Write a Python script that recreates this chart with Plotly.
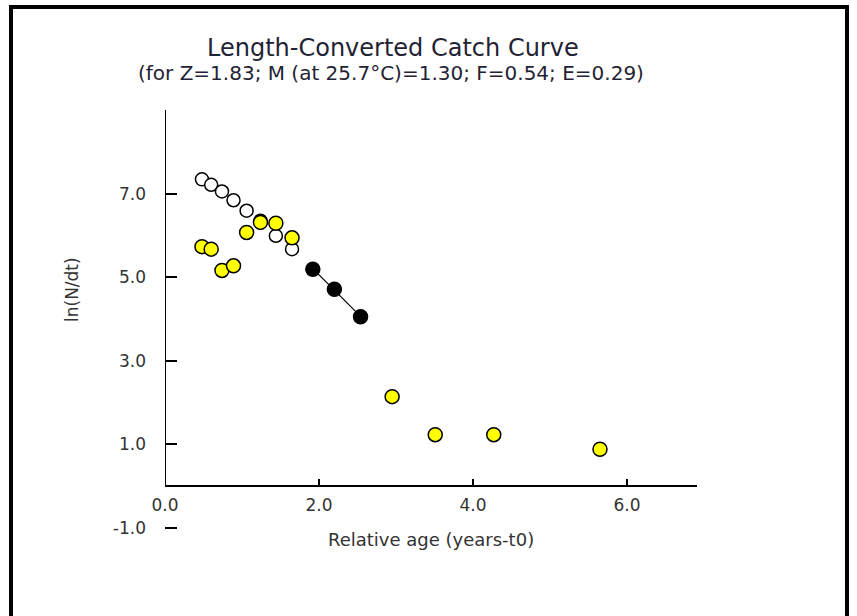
import numpy as np
import plotly.graph_objects as go

# ---------------- data ----------------
age_left = [0.48, 0.60, 0.74, 0.89, 1.06, 1.24, 1.44, 1.65]
ln_left_obs = [5.73, 5.67, 5.16, 5.27, 6.07, 6.31, 6.29, 5.94]        # yellow (not used)
ln_left_exp = [7.34, 7.21, 7.05, 6.84, 6.59, 6.35, 5.99, 5.67]        # open (expected)
age_reg = [1.92, 2.20, 2.54]
ln_reg = [5.19, 4.71, 4.05]                                            # black (used in fit)
age_right = [2.95, 3.51, 4.27, 5.65]
ln_right = [2.14, 1.23, 1.23, 0.88]                                    # yellow (not used)

x_ticks = [0, 2, 4, 6]
x_tick_labels = ["0.0", "2.0", "4.0", "6.0"]
y_ticks = [-1, 1, 3, 5, 7]
y_tick_labels = ["-1.0", "1.0", "3.0", "5.0", "7.0"]

title = "Length-Converted Catch Curve"
subtitle = "(for Z=1.83; M (at 25.7°C)=1.30; F=0.54; E=0.29)"
x_title = "Relative age (years-t0)"
y_title = "ln(N/dt)"

# ---------------- layout geometry ----------------
W, H = 857, 616
L, R, T, B = 165, 697, 110, 532
XR = [0, 6.91]
YR = [-1.1, 9.0]
FONT = "DejaVu Sans"


def px(x):
    return (x - L) / (R - L)


def py(y):
    return (B - y) / (B - T)


slope, intercept = np.polyfit(age_reg, ln_reg, 1)
fit_x = [min(age_reg), max(age_reg)]
fit_y = [intercept + slope * v for v in fit_x]

fig = go.Figure()
marker_line = dict(color="black", width=1.5)

fig.add_trace(go.Scatter(x=age_left, y=ln_left_exp, mode="markers",
                         marker=dict(size=13, color="white", line=marker_line),
                         showlegend=False, cliponaxis=False))
fig.add_trace(go.Scatter(x=age_left, y=ln_left_obs, mode="markers",
                         marker=dict(size=14, color="#ffff00", line=marker_line),
                         showlegend=False, cliponaxis=False))
fig.add_trace(go.Scatter(x=fit_x, y=fit_y, mode="lines",
                         line=dict(color="black", width=1.2),
                         showlegend=False))
fig.add_trace(go.Scatter(x=age_reg, y=ln_reg, mode="markers",
                         marker=dict(size=14, color="black", line=marker_line),
                         showlegend=False, cliponaxis=False))
fig.add_trace(go.Scatter(x=age_right, y=ln_right, mode="markers",
                         marker=dict(size=14, color="#ffff00", line=marker_line),
                         showlegend=False, cliponaxis=False))

axis_pos = (0 - YR[0]) / (YR[1] - YR[0])

fig.update_layout(
    width=W, height=H,
    margin=dict(l=L, r=W - R, t=T, b=H - B, pad=0),
    paper_bgcolor="white", plot_bgcolor="white",
    font=dict(family=FONT, color="#333333", size=17),
    xaxis=dict(range=XR, anchor="free", position=axis_pos,
               showline=True, linecolor="black", linewidth=2,
               ticks="inside", ticklen=6, tickwidth=2, tickcolor="black",
               tickvals=x_ticks, ticktext=x_tick_labels,
               showgrid=False, zeroline=False, ticklabelstandoff=4,
               tickfont=dict(family=FONT, size=17, color="#333333")),
    yaxis=dict(range=YR, showline=False,
               ticks="inside", ticklen=12, tickwidth=2, tickcolor="black",
               tickvals=y_ticks, ticktext=y_tick_labels,
               showgrid=False, zeroline=False, ticklabelstandoff=18,
               tickfont=dict(family=FONT, size=17, color="#333333")),
    shapes=[
        # y axis line from 0 to the top of the range
        dict(type="line", xref="x", yref="y", x0=0, x1=0, y0=0, y1=YR[1],
             line=dict(color="black", width=2)),
        # outer frame (left, top, right)
        dict(type="path", xref="paper", yref="paper",
             path=f"M {px(11)},{py(640)} L {px(11)},{py(7)} L {px(847)},{py(7)} L {px(847)},{py(640)}",
             line=dict(color="black", width=4)),
    ],
    annotations=[
        dict(text=title, xref="paper", yref="paper", x=px(393), y=py(48),
             showarrow=False, font=dict(family=FONT, size=24, color="#1f2333"),
             xanchor="center", yanchor="middle"),
        dict(text=subtitle, xref="paper", yref="paper", x=px(391), y=py(73),
             showarrow=False, font=dict(family=FONT, size=20, color="#1f2333"),
             xanchor="center", yanchor="middle"),
        dict(text=x_title, xref="paper", yref="paper", x=px(431), y=py(539),
             showarrow=False, font=dict(family=FONT, size=18, color="#333333"),
             xanchor="center", yanchor="middle"),
        dict(text=y_title, xref="paper", yref="paper", x=px(72), y=py(290),
             showarrow=False, textangle=-90,
             font=dict(family=FONT, size=17, color="#333333"),
             xanchor="center", yanchor="middle"),
    ],
)

fig.write_html("out.html", config={"displayModeBar": False},
               post_script="document.body.style.margin='0px';document.body.style.overflow='hidden';")
